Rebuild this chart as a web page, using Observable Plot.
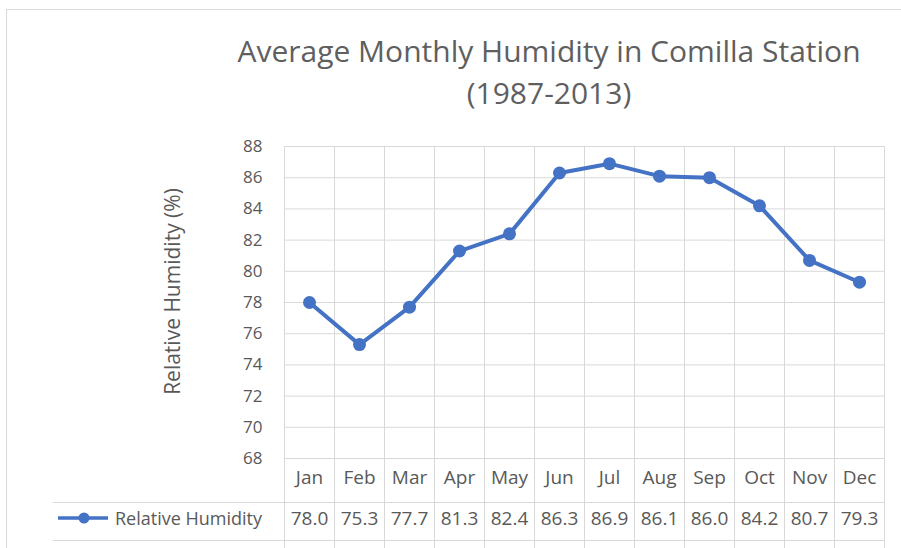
<!DOCTYPE html>
<html><head><meta charset="utf-8">
<script src="https://cdn.jsdelivr.net/npm/d3@7"></script>
<script src="https://cdn.jsdelivr.net/npm/@observablehq/plot@0.6"></script>
<style>
html,body{margin:0;padding:0;background:#fff;overflow:hidden;width:901px;height:548px;}
body{position:relative;font-family:"Open Sans",sans-serif;color:#595959;}
#frame{position:absolute;left:6px;top:9px;width:1000px;height:1000px;border:1px solid #d9d9d9;box-sizing:border-box;}
#title{position:absolute;left:149px;top:30px;width:800px;text-align:center;font-size:30px;line-height:42px;color:#5f5f5f;}
#chart{position:absolute;left:0;top:130px;}
#legend{position:absolute;left:58px;top:505px;height:26px;display:flex;align-items:center;font-size:18px;color:#595959;white-space:nowrap;}
#legend svg{margin-right:7px;}
</style>
</head><body>
<div id="frame"></div>
<div id="title">Average Monthly Humidity in Comilla Station<br>(1987-2013)</div>
<div id="chart"></div>
<div id="legend"><svg width="50" height="14"><line x1="0" y1="7" x2="50" y2="7" stroke="#4472c4" stroke-width="3.5"/><circle cx="26" cy="7" r="5.5" fill="#4472c4"/></svg><span>Relative Humidity</span></div>
<script>
const months = ["Jan","Feb","Mar","Apr","May","Jun","Jul","Aug","Sep","Oct","Nov","Dec"];
const humidity = [78.0, 75.3, 77.7, 81.3, 82.4, 86.3, 86.9, 86.1, 86.0, 84.2, 80.7, 79.3];
const yTicks = [68, 70, 72, 74, 76, 78, 80, 82, 84, 86, 88];
const seriesName = "Relative Humidity";
const yLabel = "Relative Humidity (%)";

const data = months.map((m, i) => ({i, month: m, value: humidity[i]}));
const bounds = d3.range(months.length + 1).map(k => k - 0.5);
const grid = "#d9d9d9";

const plot = Plot.plot({
  width: 901, height: 418,
  marginLeft: 284, marginRight: 17, marginTop: 16, marginBottom: 90,
  style: {fontFamily: "Open Sans, sans-serif", color: "#595959", background: "transparent", overflow: "visible"},
  x: {domain: [-0.5, months.length - 0.5], axis: null},
  y: {domain: [68, 88], axis: null},
  marks: [
    Plot.ruleY(yTicks, {stroke: grid, strokeWidth: 1}),
    Plot.ruleX(bounds, {stroke: grid, strokeWidth: 1, insetBottom: -90}),
    Plot.ruleY([68], {x1: -0.5, x2: months.length - 0.5, dy: 44, insetLeft: -231, stroke: grid}),
    Plot.ruleY([68], {x1: -0.5, x2: months.length - 0.5, dy: 82, insetLeft: -231, stroke: grid}),
    Plot.axisY(yTicks, {tickSize: 0, tickPadding: 22, fontSize: 17, label: null}),
    Plot.text(months, {x: (d, i) => i, frameAnchor: "bottom", dy: 19, fontSize: 19, lineAnchor: "middle"}),
    Plot.text(humidity, {x: (d, i) => i, frameAnchor: "bottom", dy: 60, text: d => d.toFixed(1), fontSize: 19, lineAnchor: "middle"}),
    Plot.text([yLabel], {frameAnchor: "left", textAnchor: "middle", lineAnchor: "middle", rotate: -90, dx: -111, dy: -11, fontSize: 21}),
    Plot.line(data, {x: "i", y: "value", stroke: "#4472c4", strokeWidth: 4}),
    Plot.dot(data, {x: "i", y: "value", r: 6.5, fill: "#4472c4"})
  ]
});
document.getElementById("chart").appendChild(plot);
</script>
</body></html>
